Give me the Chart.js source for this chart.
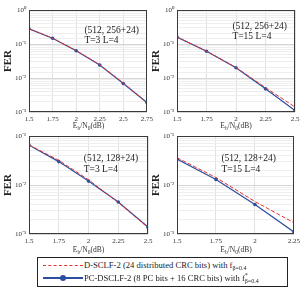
<!DOCTYPE html>
<html>
<head>
<meta charset="utf-8">
<script src="https://cdn.jsdelivr.net/npm/chart.js@4.4.1/dist/chart.umd.min.js"></script>
<style>
body{margin:0;background:#fff;width:307px;height:296px;position:relative;overflow:hidden;font-family:"Liberation Serif","Times New Roman",serif;color:#222}
.panel{position:absolute}
.xlab{position:absolute;font-size:7.5px;line-height:8px;color:#333;white-space:nowrap;transform:translateX(-50%)}
.xlab sub{font-size:5.5px;line-height:0;vertical-align:-2px}
.legend{position:absolute;left:37px;top:257px;width:251px;height:30px;border:1px solid #222;box-sizing:border-box;font-size:8.6px}
.row{position:absolute;left:0;height:12px;width:100%;white-space:nowrap}
.row .t{position:absolute;left:46px;top:0;line-height:12px}
.ss{display:inline-block;position:relative;width:17px;height:1px}
.ss i{position:absolute;left:0;font-style:normal;font-size:6px;line-height:6px}
.sw{position:absolute;left:5px;width:40px;top:6px}
</style>
</head>
<body>
<div id="wrap"></div>
<div class="legend">
  <div class="row" style="top:1px">
    <div class="sw" style="border-top:1px dashed #e8302c"></div>
    <span class="t">D-SCLF-2 (24 distributed CRC bits) with f<span class="ss"><i style="top:-2px">β=0.4</i></span></span>
  </div>
  <div class="row" style="top:14px">
    <div class="sw" style="border-top:2px solid #2a4f9e;top:5px"></div>
    <div style="position:absolute;left:22px;top:3px;width:6px;height:6px;border-radius:50%;background:#2a4f9e"></div>
    <span class="t">PC-DSCLF-2 (8 PC bits + 16 CRC bits) with f<span class="ss"><i style="top:-8px">*</i><i style="top:-2px">β=0.4</i></span></span>
  </div>
</div>
<script>
// Eb/N0 points (dB)
const ebn0A = [1.5, 1.75, 2, 2.25, 2.5, 2.75];
const ebn0B = [1.5, 1.75, 2, 2.25, 2.5];
const ebn0C = [1.5, 1.75, 2, 2.25, 2.5];
const ebn0D = [1.5, 1.75, 2, 2.25];

// (512, 256+24) T=3
const ferA_d  = [0.28, 0.149, 0.064, 0.0245, 0.0071, 0.0019];
const ferA_pc = [0.28, 0.147, 0.063, 0.024, 0.0069, 0.0019];
// (512, 256+24) T=15
const ferB_d  = [0.16, 0.062, 0.0205, 0.0052, 0.0014];
const ferB_pc = [0.16, 0.061, 0.020, 0.0048, 0.0011];
// (512, 128+24) T=3
const ferC_d  = [0.066, 0.032, 0.0128, 0.0044, 0.00135];
const ferC_pc = [0.065, 0.030, 0.0120, 0.0045, 0.00138];
// (512, 128+24) T=15
const ferD_d  = [0.036, 0.0142, 0.0046, 0.0017];
const ferD_pc = [0.034, 0.0130, 0.0040, 0.0011];

const notes = [
    ['(512, 256+24)', 'T=3 L=4'],
    ['(512, 256+24)', 'T=15 L=4'],
    ['(512, 128+24)', 'T=3 L=4'],
    ['(512, 128+24)', 'T=15 L=4']
];

const panels = [
    {L:29,  T:10,  R:148, B:112, x:ebn0A, d:ferA_d, pc:ferA_pc, ymin:1e-3, ymax:1,   note:notes[0], nx:0.47, ny:0.2},
    {L:177, T:10,  R:295, B:112, x:ebn0B, d:ferB_d, pc:ferB_pc, ymin:1e-3, ymax:1,   note:notes[1], nx:0.47, ny:0.16},
    {L:29,  T:136, R:148, B:234, x:ebn0C, d:ferC_d, pc:ferC_pc, ymin:1e-3, ymax:0.1, note:notes[2], nx:0.46, ny:0.23},
    {L:177, T:136, R:295, B:234, x:ebn0D, d:ferD_d, pc:ferD_pc, ymin:1e-3, ymax:0.1, note:notes[3], nx:0.38, ny:0.23}
];

const SUP = {'0':'⁰','1':'¹','2':'²','3':'³','4':'⁴','-':'⁻'};
function decade(v){
    const e = Math.round(Math.log10(v));
    return Math.abs(v / Math.pow(10, e) - 1) < 1e-6 ? e : null;
}

const framePlugin = {
    id: 'frame',
    afterDraw(chart, args, opts){
        const a = chart.chartArea, ctx = chart.ctx;
        ctx.save();
        ctx.strokeStyle = '#3a3a3a';
        ctx.lineWidth = 1;
        ctx.strokeRect(Math.round(a.left) + 0.5, Math.round(a.top) + 0.5,
                       Math.round(a.right - a.left) - 1, Math.round(a.bottom - a.top) - 1);
        ctx.fillStyle = '#222';
        ctx.font = '9.5px "Liberation Serif", serif';
        ctx.textBaseline = 'middle';
        const x = a.left + opts.nx * (a.right - a.left);
        const y = a.top + opts.ny * (a.bottom - a.top);
        opts.lines.forEach((t, i) => ctx.fillText(t, x, y + i * 10.5));
        ctx.restore();
    }
};

const wrap = document.getElementById('wrap');
panels.forEach((p, i) => {
    const left = p.L - 29, top = p.T - 8;
    const w = p.R + 8 - left, h = p.B + 12 - top;
    const div = document.createElement('div');
    div.className = 'panel';
    div.style.left = left + 'px';
    div.style.top = top + 'px';
    const cv = document.createElement('canvas');
    cv.width = w; cv.height = h;
    cv.style.width = w + 'px'; cv.style.height = h + 'px';
    cv.style.display = 'block';
    div.appendChild(cv);
    wrap.appendChild(div);

    const xl = document.createElement('div');
    xl.className = 'xlab';
    xl.innerHTML = 'E<sub>b</sub>/N<sub>0</sub>(dB)';
    xl.style.left = ((p.L + p.R) / 2) + 'px';
    xl.style.top = (p.B + 10 + (i > 1 ? 2 : 0)) + 'px';
    document.body.appendChild(xl);

    new Chart(cv, {
        type: 'line',
        data: {
            datasets: [
                {
                    data: p.x.map((v, k) => ({x: v, y: p.d[k]})),
                    borderColor: '#e8302c', borderWidth: 1, borderDash: [4, 2],
                    pointRadius: 0, fill: false, tension: 0
                },
                {
                    data: p.x.map((v, k) => ({x: v, y: p.pc[k]})),
                    borderColor: '#2a4f9e', borderWidth: 1.2,
                    pointRadius: 1.8, pointBackgroundColor: '#2a4f9e', pointBorderWidth: 0,
                    fill: false, tension: 0
                }
            ]
        },
        options: {
            responsive: false,
            animation: false,
            layout: { padding: { top: 8, right: 8, left: 0, bottom: 0 } },
            plugins: {
                legend: { display: false },
                tooltip: { enabled: false },
                frame: { lines: p.note, nx: p.nx, ny: p.ny }
            },
            scales: {
                x: {
                    type: 'linear',
                    min: p.x[0], max: p.x[p.x.length - 1],
                    afterFit(s){ s.height = 12; },
                    border: { display: false },
                    grid: { color: '#e2e2e2', drawTicks: false },
                    ticks: {
                        stepSize: 0.25, padding: 3, maxRotation: 0, autoSkip: false,
                        color: '#333', font: { family: '"Liberation Serif", serif', size: 7 },
                        callback: v => String(+v.toFixed(2))
                    }
                },
                y: {
                    type: 'logarithmic',
                    min: p.ymin, max: p.ymax,
                    afterFit(s){ s.width = 29; },
                    border: { display: false },
                    grid: {
                        drawTicks: false,
                        color: c => decade(c.tick.value) !== null ? '#d6d6d6' : '#eeeeee'
                    },
                    title: {
                        display: true, text: 'FER', color: '#222',
                        padding: { top: 2, bottom: 0 },
                        font: { family: '"Liberation Serif", serif', size: 11, weight: 'bold' }
                    },
                    ticks: {
                        padding: 3, autoSkip: false, color: '#333',
                        font: { family: '"Liberation Serif", serif', size: 7 },
                        callback: v => {
                            const e = decade(v);
                            if (e === null) return '';
                            return '10' + String(e).split('').map(ch => SUP[ch]).join('');
                        }
                    }
                }
            }
        },
        plugins: [framePlugin]
    });
});
</script>
</body>
</html>
